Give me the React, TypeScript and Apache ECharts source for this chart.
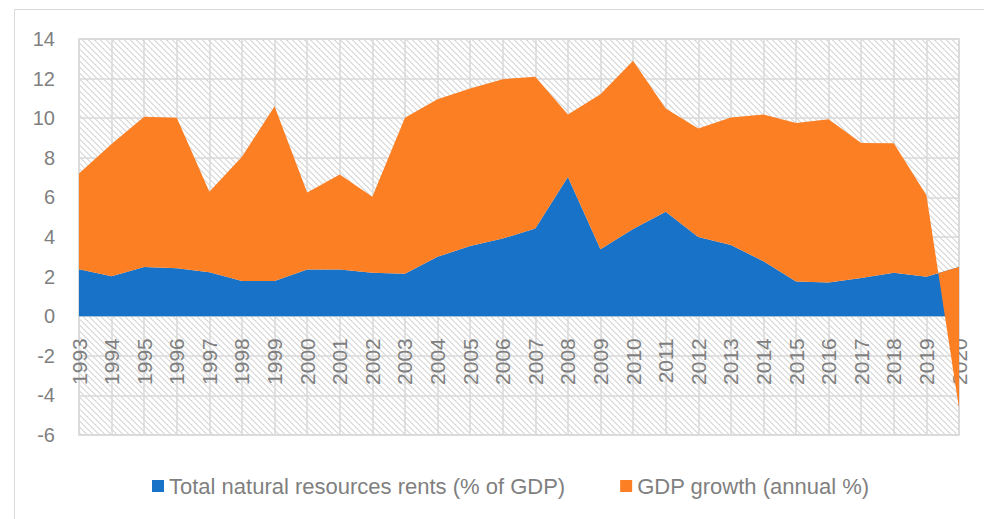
import React, { useEffect, useRef } from "react";
import * as echarts from "echarts";

const years = [
  "1993", "1994", "1995", "1996", "1997", "1998", "1999", "2000", "2001", "2002",
  "2003", "2004", "2005", "2006", "2007", "2008", "2009", "2010", "2011", "2012",
  "2013", "2014", "2015", "2016", "2017", "2018", "2019", "2020",
];

const rents = [
  2.37, 2.02, 2.49, 2.42, 2.22, 1.78, 1.78, 2.36, 2.36, 2.19,
  2.14, 3.0, 3.54, 3.92, 4.43, 7.03, 3.38, 4.4, 5.27, 4.0,
  3.59, 2.78, 1.75, 1.7, 1.93, 2.2, 1.99, 2.49,
];

const gdpGrowth = [
  4.84, 6.68, 7.58, 7.6, 4.06, 6.27, 8.82, 3.89, 4.8, 3.84,
  7.88, 7.96, 7.96, 8.05, 7.66, 3.16, 7.83, 8.5, 5.22, 5.48,
  6.44, 7.41, 8.01, 8.25, 6.82, 6.53, 4.12, -7.14,
];

const seriesNames = ["Total natural resources rents (% of GDP)", "GDP growth (annual %)"];
const seriesColors = ["#1872C8", "#FD7F24"];

const FONT = "'Liberation Sans', Arial, sans-serif";
const TEXT_COLOR = "#7f7f7f";
const GRID_COLOR = "#d9d9d9";

function makeHatch(): HTMLCanvasElement {
  const s = 6;
  const c = document.createElement("canvas");
  c.width = s;
  c.height = s;
  const ctx = c.getContext("2d")!;
  ctx.fillStyle = "#ffffff";
  ctx.fillRect(0, 0, s, s);
  ctx.fillStyle = "#e0e0e0";
  for (let y = 0; y < s; y++) {
    for (let x = 0; x < s; x++) {
      const d = (((x - y) % s) + s) % s;
      if (d === 0 || d === 1) ctx.fillRect(x, y, 1, 1);
    }
  }
  return c;
}

export default function App() {
  const ref = useRef<HTMLDivElement>(null);

  useEffect(() => {
    if (!ref.current) return;
    const chart = echarts.init(ref.current, null, { renderer: "svg" });
    const hatch = makeHatch();
    const gridTop = 39;
    const gridBottom = 84;
    const plotH = 519 - gridTop - gridBottom;
    const yMin = -6;
    const yMax = 14;
    const zeroOffset = -(plotH * (0 - yMin)) / (yMax - yMin);
    chart.setOption({
      animation: false,
      backgroundColor: "#ffffff",
      grid: {
        left: 79,
        right: 25,
        top: gridTop,
        bottom: gridBottom,
        show: true,
        backgroundColor: {
          image: hatch,
          repeat: "repeat",
          imageWidth: 6,
          imageHeight: 6,
        },
        borderColor: GRID_COLOR,
        borderWidth: 1.5,
      },
      legend: {
        left: 147,
        top: 470,
        itemWidth: 12,
        itemHeight: 12,
        itemGap: 55,
        icon: "rect",
        textStyle: { color: TEXT_COLOR, fontSize: 22, fontFamily: FONT },
        data: seriesNames,
      },
      xAxis: {
        type: "category",
        data: years,
        boundaryGap: false,
        position: "bottom",
        offset: zeroOffset,
        axisLine: { onZero: false, lineStyle: { color: GRID_COLOR, width: 1.5 } },
        axisTick: { show: false },
        axisLabel: {
          interval: 0,
          rotate: 90,
          margin: 22,
          color: TEXT_COLOR,
          fontSize: 21,
          fontFamily: FONT,
        },
        splitLine: { show: true, interval: 0, lineStyle: { color: GRID_COLOR, width: 1.5 } },
      },
      yAxis: {
        type: "value",
        min: yMin,
        max: yMax,
        interval: 2,
        axisLine: { show: false },
        axisTick: { show: false },
        axisLabel: { margin: 24, color: TEXT_COLOR, fontSize: 20, fontFamily: FONT },
        splitLine: { show: true, lineStyle: { color: GRID_COLOR, width: 1.5 } },
      },
      graphic: [
        {
          type: "line",
          shape: { x1: 14.5, y1: 9.5, x2: 14.5, y2: 519 },
          style: { stroke: GRID_COLOR, lineWidth: 1 },
          silent: true,
        },
        {
          type: "line",
          shape: { x1: 14.5, y1: 9.5, x2: 984, y2: 9.5 },
          style: { stroke: GRID_COLOR, lineWidth: 1 },
          silent: true,
        },
      ],
      series: [
        {
          name: seriesNames[0],
          type: "line",
          stack: "total",
          stackStrategy: "all",
          data: rents,
          symbol: "none",
          lineStyle: { width: 0 },
          itemStyle: { color: seriesColors[0] },
          areaStyle: { color: seriesColors[0], opacity: 1 },
        },
        {
          name: seriesNames[1],
          type: "line",
          stack: "total",
          stackStrategy: "all",
          data: gdpGrowth,
          symbol: "none",
          lineStyle: { width: 0 },
          itemStyle: { color: seriesColors[1] },
          areaStyle: { color: seriesColors[1], opacity: 1 },
        },
      ],
    });
    return () => chart.dispose();
  }, []);

  return (
    <div
      ref={ref}
      style={{ position: "fixed", left: 0, top: 0, width: 984, height: 519 }}
    />
  );
}
